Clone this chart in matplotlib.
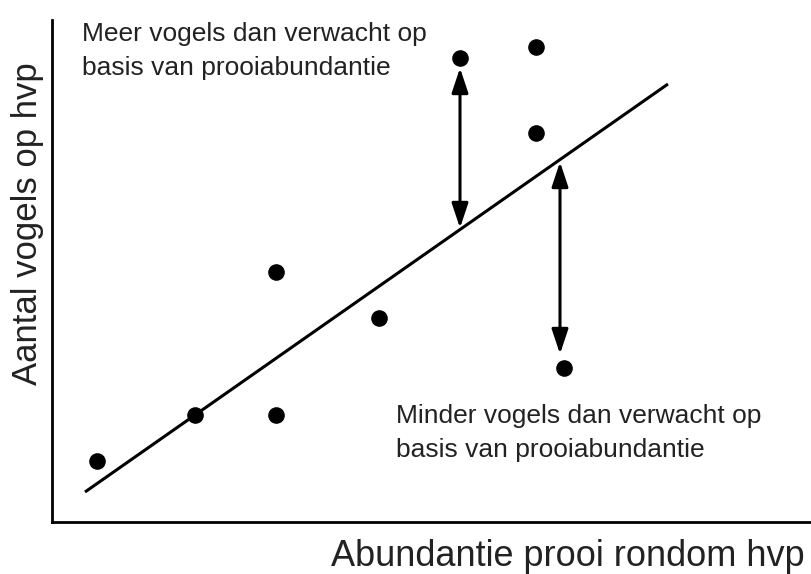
import matplotlib
matplotlib.use('Agg')
import matplotlib.pyplot as plt

# measured positions (pixel-like units, y measured upward)
prey = [97, 195, 276, 276, 379, 460, 536, 536, 564]
birds = [113, 159, 302, 159, 256, 516, 527, 441, 206]

line_x = [85, 668]
line_y = [82, 490]

# residual arrows: (x, y_from, y_to)
arrow_more = (460, 506, 346)
arrow_less = (560, 412, 220)

text_more = 'Meer vogels dan verwacht op\nbasis van prooiabundantie'
text_less = 'Minder vogels dan verwacht op\nbasis van prooiabundantie'

plt.rcParams['font.family'] = ['Liberation Sans Narrow', 'Liberation Sans', 'DejaVu Sans']

fig = plt.figure(figsize=(8.11, 5.74), dpi=100)
ax = fig.add_axes([52 / 811, 52 / 574, 1 - 52 / 811, (554 - 52) / 574])
ax.set_xlim(52, 811)
ax.set_ylim(52, 554)

ax.plot(line_x, line_y, color='black', lw=2.2, solid_capstyle='butt')
ax.scatter(prey, birds, s=120, color='black', zorder=3)

for x, y0, y1 in (arrow_more, arrow_less):
    ax.annotate('', xy=(x, y1), xytext=(x, y0),
                arrowprops=dict(arrowstyle='<|-|>,head_length=0.75,head_width=0.25',
                                color='black', lw=2.2,
                                mutation_scale=20, shrinkA=0, shrinkB=0))

ax.text(82, 552, text_more, fontsize=19, va='top', ha='left',
        linespacing=1.55, color='#222222')
ax.text(396, 170, text_less, fontsize=19, va='top', ha='left',
        linespacing=1.55, color='#222222')

for s in ['top', 'right']:
    ax.spines[s].set_visible(False)
for s in ['left', 'bottom']:
    ax.spines[s].set_linewidth(2)
ax.set_xticks([])
ax.set_yticks([])

fig.text(805 / 811, 18 / 574, 'Abundantie prooi rondom hvp', fontsize=26,
         ha='right', va='center', color='#222222')
fig.text(28 / 811, 350 / 574, 'Aantal vogels op hvp', fontsize=25,
         ha='center', va='center', rotation=90, color='#222222')

fig.savefig('out.png', dpi=100)
